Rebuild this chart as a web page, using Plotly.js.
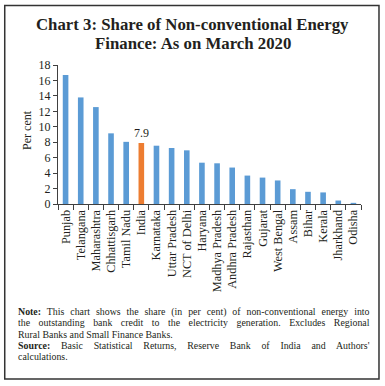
<!DOCTYPE html>
<html>
<head>
<meta charset="utf-8">
<script src="https://cdn.plot.ly/plotly-3.0.1.min.js"></script>
<style>
html,body{margin:0;padding:0;background:#fff;}
#chart{width:385px;height:386px;}
</style>
</head>
<body>
<div id="chart"></div>
<script>
const states = ["Punjab","Telangana","Maharashtra","Chhattisgarh","Tamil Nadu","India","Karnataka","Uttar Pradesh","NCT of Delhi","Haryana","Madhya Pradesh","Andhra Pradesh","Rajasthan","Gujarat","West Bengal","Assam","Bihar","Kerala","Jharkhand","Odisha"];
const shares = [16.7,13.8,12.55,9.15,8.05,7.9,7.55,7.25,6.95,5.35,5.27,4.72,3.68,3.42,3.05,1.92,1.58,1.5,0.45,0.15];
const highlight = "India";
const highlightLabel = "7.9";
const yTicks = [0,2,4,6,8,10,12,14,16,18];
const titleLines = ["Chart 3: Share of Non-conventional Energy","Finance: As on March 2020"];
const noteLines = [
  "<b>Note:</b> This chart shows the share (in per cent) of non-conventional energy into",
  "the outstanding bank credit to the electricity generation. Excludes Regional",
  "Rural Banks and Small Finance Banks.",
  "<b>Source:</b> Basic Statistical Returns, Reserve Bank of India and Authors'",
  "calculations."
];
const justified = [true, true, false, true, false];

const W = 385, H = 386;
const L = 58.3, R = 23.5, T = 64.7, B = 182;
const pw = W - L - R, ph = H - T - B;
const px = x => (x - L) / pw;
const py = y => (H - B - y) / ph;
const noteLeft = 16.5, noteRight = 368;

const serif = "Liberation Serif, Times New Roman, serif";
const txt = "#231f20";

const colors = states.map(s => s === highlight ? "#ED7D31" : "#5B9BD5");

const annotations = [];
titleLines.forEach((t, i) => {
  annotations.push({xref:"paper", yref:"paper", x:px(193), y:py(24 + i*19), text:t, showarrow:false,
    xanchor:"center", yanchor:"middle", font:{family:serif, size:16.8, color:txt, weight:"bold"}});
});
noteLines.forEach((t, i) => {
  annotations.push({xref:"paper", yref:"paper", x:px(noteLeft), y:py(312 + i*11.2), text:t, showarrow:false,
    xanchor:"left", yanchor:"middle", align:"left", font:{family:serif, size:9.9, color:txt}});
});
annotations.push({xref:"paper", yref:"paper", x:px(27), y:py(130), text:"Per cent", textangle:-90, showarrow:false,
  xanchor:"center", yanchor:"middle", font:{family:serif, size:12, color:txt}});
annotations.push({x:highlight, y:shares[states.indexOf(highlight)], xref:"x", yref:"y", text:highlightLabel,
  showarrow:false, yanchor:"bottom", yshift:1, font:{family:serif, size:12, color:txt}});

const data = [{
  type:"bar", x:states, y:shares, marker:{color:colors, line:{width:0}}, hoverinfo:"x+y"
}];

const layout = {
  width:W, height:H,
  margin:{l:L, r:R, t:T, b:B, pad:0},
  paper_bgcolor:"#fff", plot_bgcolor:"#fff",
  showlegend:false,
  bargap:0.63,
  font:{family:serif, color:txt},
  xaxis:{type:"category", showline:true, linecolor:"#404040", linewidth:1, ticks:"outside", tickson:"boundaries",
    ticklen:5, tickcolor:"#404040", tickangle:-90, tickfont:{family:serif, size:12.3, color:txt}, showgrid:false, zeroline:false, automargin:false},
  yaxis:{range:[0,18], tickvals:yTicks, showline:true, linecolor:"#404040", linewidth:1, ticks:"outside", ticklen:4,
    tickcolor:"#404040", tickfont:{family:serif, size:12, color:txt}, showgrid:false, zeroline:false, automargin:false},
  annotations:annotations,
  shapes:[{type:"rect", xref:"paper", yref:"paper", x0:px(5), x1:px(379.5), y0:py(5), y1:py(379.5),
    line:{color:"#333", width:1.5}, fillcolor:"rgba(0,0,0,0)", layer:"above"}]
};

Plotly.newPlot("chart", data, layout, {displayModeBar:false, staticPlot:true}).then(() => {
  const plain = noteLines.map(s => s.replace(/<[^>]+>/g, ""));
  document.querySelectorAll("#chart text.annotation-text").forEach(el => {
    const idx = plain.indexOf(el.textContent);
    if (idx < 0 || !justified[idx]) return;
    const len = el.getComputedTextLength();
    const spaces = (el.textContent.match(/ /g) || []).length;
    const extra = (noteRight - noteLeft) - len;
    if (spaces > 0 && extra > 0) el.style.wordSpacing = (extra / spaces) + "px";
  });
});
</script>
</body>
</html>
